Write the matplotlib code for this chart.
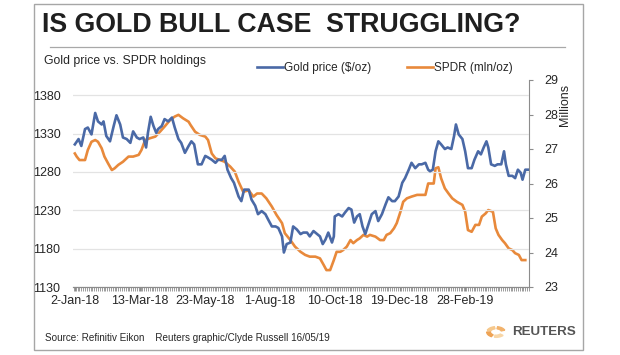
import matplotlib
matplotlib.use("Agg")
import matplotlib.pyplot as plt
import matplotlib.dates as mdates
from matplotlib.patches import Rectangle, Wedge
from matplotlib.lines import Line2D
import pandas as pd

plt.rcParams['font.family'] = ['Liberation Sans', 'DejaVu Sans']

# ---------------- data ----------------
start_date = "2018-01-02"

gold_days = [0, 4, 7, 11, 14, 18, 22, 25, 29, 31, 34, 38, 42, 45, 49, 52, 56, 60, 63, 67,
             70, 74, 77, 79, 82, 85, 88, 90, 94, 97, 101, 105, 108, 112, 115, 119, 123,
             126, 129, 133, 137, 141, 144, 148, 152, 155, 159, 162, 165, 169, 172, 177, 180,
             183, 188, 191, 195, 198, 202, 206, 209, 213, 217, 220, 224, 226, 229, 233, 236,
             240, 244, 247, 251, 254, 258, 262, 265, 268, 271, 274, 278, 280, 281, 285, 289,
             292, 296, 299, 302, 305, 308, 311, 314, 318, 321, 325, 328, 332, 336, 339, 343,
             346, 350, 354, 357, 361, 364, 368, 372, 375, 379, 382, 384, 387, 390, 393, 396,
             400, 403, 407, 410, 412, 415, 419, 422, 425, 429, 432, 436, 439, 442, 445, 447,
             450, 454, 457, 461, 464, 466, 469, 473, 476, 479, 482, 484, 487, 491]
gold_price = [1316, 1323, 1314, 1336, 1338, 1329, 1357, 1346, 1342, 1346, 1327, 1320, 1340, 1354,
              1342, 1325, 1323, 1318, 1333, 1325, 1323, 1325, 1312, 1331, 1352, 1340, 1331, 1336,
              1340, 1349, 1346, 1351, 1338, 1323, 1318, 1305, 1314, 1320, 1316, 1290, 1290, 1301,
              1299, 1296, 1292, 1296, 1296, 1301, 1283, 1272, 1266, 1248, 1242, 1257, 1257, 1244,
              1236, 1225, 1229, 1225, 1218, 1209, 1209, 1207, 1196, 1175, 1186, 1188, 1209, 1205,
              1199, 1201, 1201, 1196, 1203, 1199, 1196, 1186, 1192, 1201, 1188, 1196, 1222, 1225,
              1222, 1227, 1233, 1231, 1214, 1222, 1225, 1209, 1199, 1214, 1225, 1229, 1216, 1225,
              1238, 1247, 1242, 1242, 1248, 1266, 1272, 1283, 1292, 1285, 1290, 1290, 1292, 1283,
              1281, 1283, 1307, 1320, 1316, 1310, 1312, 1310, 1327, 1342, 1329, 1323, 1307, 1285,
              1285, 1296, 1307, 1303, 1312, 1320, 1312, 1290, 1288, 1290, 1290, 1307, 1290, 1275,
              1275, 1272, 1283, 1279, 1270, 1283, 1283]

spdr_days = [0, 2, 5, 11, 14, 18, 22, 25, 29, 32, 36, 40, 43, 47, 52, 58, 63, 69, 72, 76,
             81, 87, 92, 97, 103, 108, 112, 117, 123, 125, 130, 135, 141, 144, 148, 152, 157,
             162, 168, 173, 177, 182, 188, 193, 197, 202, 207, 213, 218, 224, 227, 233, 238,
             244, 249, 254, 260, 265, 269, 272, 276, 280, 283, 287, 290, 294, 298, 301, 305,
             308, 312, 316, 319, 325, 330, 334, 337, 341, 345, 348, 352, 355, 359, 364, 370,
             373, 379, 382, 388, 390, 393, 396, 400, 404, 408, 413, 419, 422, 425, 429, 433,
             437, 440, 444, 447, 452, 455, 458, 462, 465, 469, 473, 476, 480, 483, 487]
spdr_holdings = [26.87, 26.78, 26.68, 26.68, 26.97, 27.21, 27.26, 27.21, 27.02, 26.78, 26.58,
                 26.39, 26.44, 26.54, 26.63, 26.78, 26.78, 26.83, 26.97, 27.26, 27.31, 27.36,
                 27.50, 27.65, 27.84, 27.94, 27.99, 27.89, 27.79, 27.70, 27.50, 27.41, 27.36,
                 27.26, 26.87, 26.73, 26.68, 26.63, 26.49, 26.34, 26.05, 25.76, 25.80, 25.62,
                 25.71, 25.71, 25.57, 25.33, 25.09, 24.85, 24.56, 24.36, 24.17, 24.02, 23.93,
                 23.88, 23.88, 23.83, 23.64, 23.49, 23.49, 23.78, 24.02, 24.02, 24.07, 24.17,
                 24.36, 24.27, 24.36, 24.41, 24.51, 24.46, 24.51, 24.46, 24.36, 24.36, 24.51,
                 24.56, 24.70, 24.85, 25.18, 25.47, 25.57, 25.62, 25.67, 25.67, 25.67, 26.00,
                 26.00, 26.44, 26.47, 26.15, 25.86, 25.71, 25.57, 25.47, 25.38, 25.18, 24.65,
                 24.60, 24.80, 24.80, 25.04, 25.13, 25.23, 25.18, 24.70, 24.51, 24.36, 24.27,
                 24.12, 24.07, 23.98, 23.93, 23.78, 23.78]

x_tick_labels = ["2-Jan-18", "13-Mar-18", "23-May-18", "1-Aug-18", "10-Oct-18",
                 "19-Dec-18", "28-Feb-19"]
gold_ticks = [1130, 1180, 1230, 1280, 1330, 1380]
spdr_ticks = [23, 24, 25, 26, 27, 28, 29]

# ---------------- styling ----------------
BLUE = "#4a69a6"
ORANGE = "#e8893b"
GRID = "#e3e3e3"
AXC = "#8c8c8c"
TXT = "#262626"

W, H = 620, 355
fig = plt.figure(figsize=(W / 100, H / 100), dpi=100)

def fx(px):
    return px / W

def fy(py):
    return 1 - py / H

ax = fig.add_axes([fx(73), fy(287), fx(529) - fx(73), fy(80) - fy(287)])
ax2 = ax.twinx()

t0 = pd.Timestamp(start_date)
gdates = t0 + pd.to_timedelta(gold_days, unit="D")
sdates = t0 + pd.to_timedelta(spdr_days, unit="D")

ax2.plot(sdates, spdr_holdings, color=ORANGE, lw=1.9, solid_joinstyle="round",
         label="SPDR (mln/oz)", zorder=2)
ax.plot(gdates, gold_price, color=BLUE, lw=1.9, solid_joinstyle="round",
        label="Gold price ($/oz)", zorder=3)
ax.set_zorder(ax2.get_zorder() + 1)
ax.patch.set_visible(False)

ax.set_xlim(t0 - pd.Timedelta(days=2), t0 + pd.Timedelta(days=491))
ax.set_ylim(1130, 1400)
ax2.set_ylim(23, 29)

tick_dates = pd.to_datetime(x_tick_labels, format="%d-%b-%y")
ax.set_xticks(tick_dates)
ax.set_xticklabels(x_tick_labels)
ax.xaxis.set_minor_locator(mdates.DayLocator(interval=2))
ax.tick_params(axis="x", which="major", length=3, color=AXC, pad=3,
               labelsize=9, labelcolor=TXT)
ax.tick_params(axis="x", which="minor", length=3, color=AXC, width=0.6)

ax.set_yticks(gold_ticks)
ax.tick_params(axis="y", length=0, pad=9, labelsize=9, labelcolor=TXT)
ax.grid(axis="y", color=GRID, lw=0.9)
ax.set_axisbelow(True)

ax2.set_yticks(spdr_ticks)
ax2.tick_params(axis="y", length=3, color=AXC, pad=8, labelsize=9, labelcolor=TXT)

for a in (ax, ax2):
    for s in ("top", "left"):
        a.spines[s].set_visible(False)
    a.spines["right"].set_visible(False)
    a.spines["bottom"].set_color(AXC)
    a.spines["bottom"].set_linewidth(0.8)
ax2.spines["right"].set_visible(True)
ax2.spines["right"].set_color(AXC)
ax2.spines["right"].set_linewidth(0.8)

fig.text(fx(565), fy(105), "Millions", rotation=90, ha="center", va="center",
         fontsize=9, color=TXT)

# ---------------- header ----------------
fig.text(fx(42), fy(25), "IS GOLD BULL CASE  STRUGGLING?", fontsize=19.3,
         fontweight="bold", color="#1f1f1f", ha="left", va="center")
fig.add_artist(Line2D([fx(50), fx(565)], [fy(47), fy(47)], color="#a8a8a8", lw=0.9))
fig.text(fx(44), fy(61), "Gold price vs. SPDR holdings", fontsize=8.8, color=TXT,
         ha="left", va="center")

handles = [Line2D([], [], color=BLUE, lw=1.9), Line2D([], [], color=ORANGE, lw=1.9)]
fig.legend(handles, ["Gold price ($/oz)", "SPDR (mln/oz)"], ncol=2, frameon=False,
           loc="center left", bbox_to_anchor=(fx(252), fy(68)), fontsize=8.5,
           handlelength=2.2, handletextpad=0.1, columnspacing=3.0, borderaxespad=0,
           labelcolor=TXT)

# ---------------- footer ----------------
fig.text(fx(45), fy(338), "Source: Refinitiv Eikon    Reuters graphic/Clyde Russell 16/05/19",
         fontsize=7.1, color=TXT, ha="left", va="center")
fig.text(fx(512), fy(332), "REUTERS", fontsize=9.6, fontweight="bold", color="#555555",
         ha="left", va="center")
cx, cy = 496, 332
for i, (a1, a2) in enumerate([(20, 80), (100, 160), (180, 240), (260, 320)]):
    fig.add_artist(Wedge((fx(cx), fy(cy)), 0.015, a1, a2, width=0.006,
                         color=["#f2b26b", "#f6c88c", "#eea355", "#f8d6a6"][i],
                         transform=fig.transFigure))

fig.add_artist(Rectangle((fx(34), fy(350)), fx(583) - fx(34), fy(4) - fy(350),
                         fill=False, edgecolor="#a6a6a6", lw=1.0,
                         transform=fig.transFigure))

fig.savefig("out.png", dpi=100)
